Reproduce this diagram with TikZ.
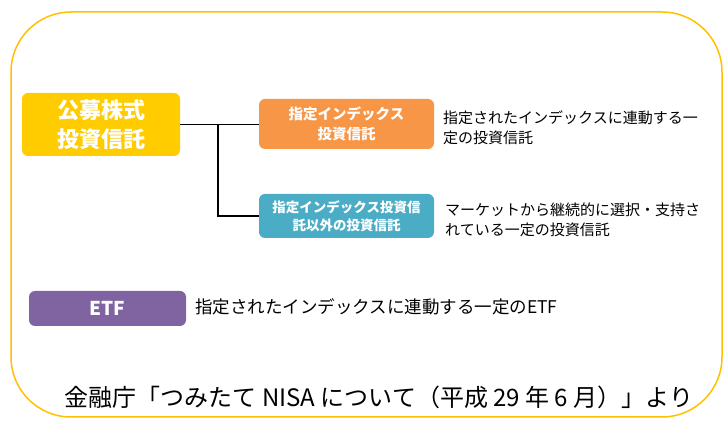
\documentclass[tikz,border=0pt]{standalone}
\usepackage{fontspec}
\setmainfont{Noto Sans CJK JP}
\usetikzlibrary{positioning}
\definecolor{frame}{HTML}{FFC000}
\definecolor{kobo}{HTML}{FFCC00}
\definecolor{idx}{HTML}{F79646}
\definecolor{other}{HTML}{4BACC6}
\definecolor{etf}{HTML}{8064A2}

\begin{document}
\begin{tikzpicture}[x=1pt, y=-1pt,
    box/.style={rounded corners=6pt, text=white, align=center, inner sep=0pt},
    desc/.style={anchor=west, align=left, inner sep=0pt, font=\fontsize{15}{20}\selectfont}]
    \useasboundingbox (0,0) rectangle (724,430);
    \draw[frame, line width=1.5pt, rounded corners=60pt] (11,12) rectangle (722,417);
    \node[box, fill=kobo, minimum width=158pt, minimum height=63pt, font=\fontsize{22}{29}\selectfont\bfseries] (kobo) at (101,124.5) {公募株式\\投資信託};
    \node[box, fill=idx, minimum width=175pt, minimum height=50pt, font=\fontsize{14.5}{20}\selectfont\bfseries] (idx) at (346.5,124) {指定インデックス\\投資信託};
    \node[box, fill=other, minimum width=175pt, minimum height=44pt, font=\fontsize{13.5}{18}\selectfont\bfseries] (other) at (346.5,216) {指定インデックス投資信\\託以外の投資信託};
    \node[box, fill=etf, minimum width=157pt, minimum height=35pt, font=\fontsize{19}{22}\selectfont\bfseries] (etf) at (107.5,308.5) {ETF};
    \node[desc] (idxdesc) at (443,128) {指定されたインデックスに連動する一\\定の投資信託};
    \node[desc] (otherdesc) at (445,220) {マーケットから継続的に選択・支持さ\\れている一定の投資信託};
    \node[desc, font=\fontsize{17.5}{20}\selectfont] (etfdesc) at (195,307) {指定されたインデックスに連動する一定のETF};
    \node[font=\fontsize{24}{28}\selectfont, inner sep=0pt] (source) at (379,397) {金融庁「つみたて NISA について（平成 29 年 6 月）」より};
    \coordinate (branch) at (218,124.5);
    \draw[line width=1.6pt] (kobo.east) -- (kobo.east -| idx.west);
    \draw[line width=1.6pt] (branch) |- (other.west);
\end{tikzpicture}
\end{document}
